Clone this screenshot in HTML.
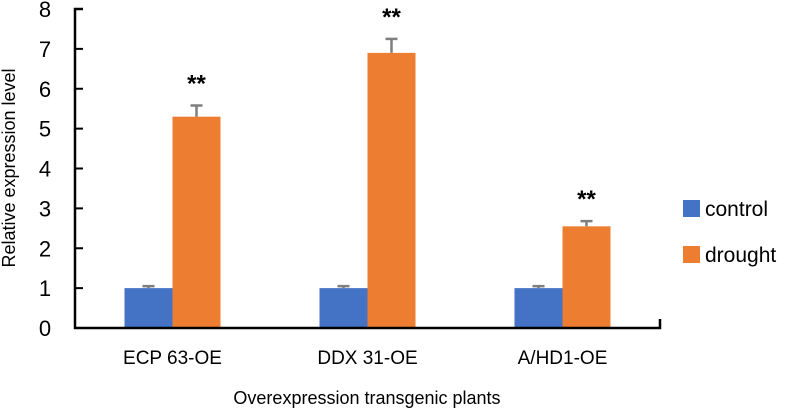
<!DOCTYPE html>
<html><head><meta charset="utf-8"><style>
body{margin:0;background:#fff;font-family:"Liberation Sans",sans-serif;}
svg text{font-family:"Liberation Sans",sans-serif;fill:#000;}
</style></head><body>
<svg width="787" height="411">
<g id="g"></g>
</svg>
<script>
const categories=["ECP 63-OE","DDX 31-OE","A/HD1-OE"];
const controlVals=[1,1,1];
const controlErr=[0.05,0.05,0.05];
const droughtVals=[5.3,6.9,2.55];
const droughtErr=[0.28,0.35,0.13];
const sigMarks=["**","**","**"];
const yTicks=[0,1,2,3,4,5,6,7,8];
const ns="http://www.w3.org/2000/svg";
const g=document.getElementById('g');
const x0=75,x1=660,y0=328,yTop=9;
const yMax=8;
const ys=v=>y0-(y0-yTop)*v/yMax;
const band=(x1-x0)/categories.length;
const xc=i=>x0+band*(i+0.5);
const bw=48;
function el(t,a,txt){const e=document.createElementNS(ns,t);for(const k in a)e.setAttribute(k,a[k]);if(txt!=null)e.textContent=txt;g.appendChild(e);return e;}
yTicks.forEach(t=>{
const l=el('line',{x1:x0,x2:x0+8,y1:ys(t),y2:ys(t),stroke:'#000','stroke-width':2});


const tx=el('text',{x:45,y:ys(t)+8,'text-anchor':'middle','font-size':22},t);


});
function errBar(x,top,e){
const a=el('line',{x1:x,x2:x,y1:ys(top),y2:ys(top+e),stroke:'#7f7f7f','stroke-width':2.5});


const b=el('line',{x1:x-6,x2:x+6,y1:ys(top+e),y2:ys(top+e),stroke:'#7f7f7f','stroke-width':2.5});


}
categories.forEach((c,i)=>{
const cx=xc(i);
const r1=el('rect',{x:cx-bw,y:ys(controlVals[i]),width:bw,height:y0-ys(controlVals[i]),fill:'#4472c4'});


const r2=el('rect',{x:cx,y:ys(droughtVals[i]),width:bw,height:y0-ys(droughtVals[i]),fill:'#ed7d31'});


errBar(cx-bw/2,controlVals[i],controlErr[i]);
errBar(cx+bw/2,droughtVals[i],droughtErr[i]);
const s=el('text',{x:cx+bw/2,y:ys(droughtVals[i]+droughtErr[i])-14,'text-anchor':'middle','font-size':24,'font-weight':'bold'},sigMarks[i]);


const t=el('text',{x:cx,y:364,'text-anchor':'middle','font-size':19},c);


});
const ax=el('path',{d:`M${x0+8},${yTop} H${x0} V${y0} H${x1} V${y0-9}`,fill:'none',stroke:'#000','stroke-width':2.5});


const xt=el('text',{x:367,y:404,'text-anchor':'middle','font-size':18},'Overexpression transgenic plants');


const yt=el('text',{x:0,y:0,'text-anchor':'middle','font-size':18,transform:'translate(15,168) rotate(-90)'},'Relative expression level');


[['control','#4472c4',208],['drought','#ed7d31',254]].forEach(([n,c,y])=>{
const r=el('rect',{x:683,y:y-8,width:17,height:17,fill:c});


const t=el('text',{x:705,y:y+8,'font-size':21},n);


});
</script>
</body></html>
